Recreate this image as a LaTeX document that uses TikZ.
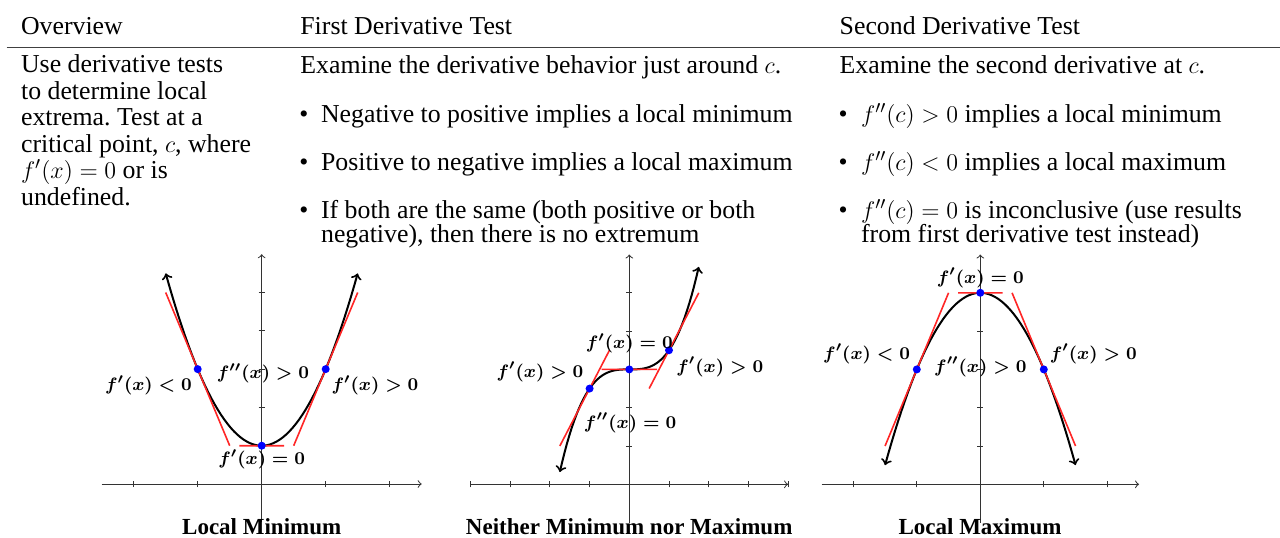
\documentclass[tikz,border=0pt]{standalone}
\usepackage{fontspec}
\setmainfont{Liberation Serif}

\begin{document}
\begin{tikzpicture}[x=0.5pt, y=-0.5pt,
    txt/.style={anchor=base west, inner sep=0pt, font=\fontsize{12.9}{13}\selectfont},
    ttl/.style={anchor=base, inner sep=0pt, font=\fontsize{11.5}{12}\selectfont\bfseries},
    lbl/.style={inner sep=0pt, font=\fontsize{9.4}{11}\selectfont\boldmath},
    axis/.style={black!80, line width=0.5pt},
    curve/.style={line width=1pt, <->},
    tan/.style={red!85, line width=0.8pt},
    dot/.style={circle, fill=blue, inner sep=0pt, minimum size=4pt}]
    \useasboundingbox (0,0) rectangle (1280,537);

    % table head
    \node[txt] (hov) at (20.7,34.3) {Overview};
    \node[txt] (hfd) at (300,34.3) {First Derivative Test};
    \node[txt] (hsd) at (839.3,34.3) {Second Derivative Test};
    \draw[black!75, line width=0.6pt] (6.7,47.7) -- (1280,47.7);

    % overview column
    \node[txt] (ov1) at (20.7,72.7) {Use derivative tests};
    \node[txt] (ov2) at (20.7,99.2) {to determine local};
    \node[txt] (ov3) at (20.7,125.7) {extrema.\ Test at a};
    \node[txt] (ov4) at (20.7,152.2) {critical point, $c$, where};
    \node[txt] (ov5) at (20.7,178.7) {$f'(x)=0$ or is};
    \node[txt] (ov6) at (20.7,205.2) {undefined.};

    % first derivative column
    \node[txt] (fd0) at (300,73) {Examine the derivative behavior just around $c$.};
    \node[txt] (fdb1) at (299,122.7) {\textbullet};
    \node[txt] (fd1) at (320.7,122.7) {Negative to positive implies a local minimum};
    \node[txt] (fdb2) at (299,170.7) {\textbullet};
    \node[txt] (fd2) at (320.7,170.7) {Positive to negative implies a local maximum};
    \node[txt] (fdb3) at (299,218) {\textbullet};
    \node[txt] (fd3) at (320.7,218) {If both are the same (both positive or both};
    \node[txt] (fd4) at (320.7,242.5) {negative), then there is no extremum};

    % second derivative column
    \node[txt] (sd0) at (839.3,73) {Examine the second derivative at $c$.};
    \node[txt] (sdb1) at (838.3,122.7) {\textbullet};
    \node[txt] (sd1) at (860.7,122.7) {$f''(c)>0$ implies a local minimum};
    \node[txt] (sdb2) at (838.3,170.7) {\textbullet};
    \node[txt] (sd2) at (860.7,170.7) {$f''(c)<0$ implies a local maximum};
    \node[txt] (sdb3) at (838.3,218) {\textbullet};
    \node[txt] (sd3) at (860.7,218) {$f''(c)=0$ is inconclusive (use results};
    \node[txt] (sd4) at (860.7,242.5) {from first derivative test instead)};

    \coordinate (O1) at (261.7,484);
    \coordinate (O2) at (629.3,484.3);
    \coordinate (O3) at (980.3,484.3);

    % local minimum
    \begin{scope}[shift={(O1)}, x=32pt, y=19.15pt]
        \draw[axis, ->] (-2.5,0) -- (2.5,0);
        \draw[axis, ->] (0,-1) -- (0,6);
        \foreach \t in {-2,-1,1,2} \draw[axis] (\t,-0.08) -- (\t,0.08);
        \foreach \t in {1,...,5} \draw[axis] (-0.05,\t) -- (0.05,\t);
        \draw[curve, domain=-1.5:1.5, samples=60] plot (\x,{2*\x*\x+1});
        \draw[tan] (-1.5,5) -- (-0.5,1) (-0.35,1) -- (0.35,1) (0.5,1) -- (1.5,5);
        \node[dot] (mn1) at (-1,3) {};
        \node[dot] (mn0) at (0,1) {};
        \node[dot] (mn2) at (1,3) {};
        \node[lbl] (mnl1) at (-1.77,2.58) {$f'(x)<0$};
        \node[lbl] (mnl2) at (0.02,2.89) {$f''(x)>0$};
        \node[lbl] (mnl3) at (1.77,2.58) {$f'(x)>0$};
        \node[lbl] (mnl0) at (0,0.64) {$f'(x)=0$};
    \end{scope}

    % neither
    \begin{scope}[shift={(O2)}, x=19.85pt, y=19.15pt]
        \draw[axis, ->] (-4,0) -- (4,0);
        \draw[axis, ->] (0,-1) -- (0,6);
        \foreach \t in {-4,...,-1,1,2,3,4} \draw[axis] (\t,-0.08) -- (\t,0.08);
        \foreach \t in {1,...,5} \draw[axis] (-0.075,\t) -- (0.075,\t);
        \draw[curve, domain=-1.75:1.75, samples=60] plot (\x,{3+0.5*\x*\x*\x});
        \draw[tan] (-1.75,1) -- (-0.5,3.5) (-0.7,3) -- (0.7,3) (0.5,2.5) -- (1.75,5);
        \node[dot] (nt1) at (-1,2.5) {};
        \node[dot] (nt0) at (0,3) {};
        \node[dot] (nt2) at (1,3.5) {};
        \node[lbl] (ntl0) at (0,3.68) {$f'(x)=0$};
        \node[lbl] (ntl1) at (-2.25,2.94) {$f'(x)>0$};
        \node[lbl] (ntl2) at (2.28,3.07) {$f'(x)>0$};
        \node[lbl] (ntl3) at (0.02,1.61) {$f''(x)=0$};
    \end{scope}

    % local maximum
    \begin{scope}[shift={(O3)}, x=31.75pt, y=19.15pt]
        \draw[axis, ->] (-2.5,0) -- (2.5,0);
        \draw[axis, ->] (0,-1) -- (0,6);
        \foreach \t in {-2,-1,1,2} \draw[axis] (\t,-0.08) -- (\t,0.08);
        \foreach \t in {1,...,5} \draw[axis] (-0.05,\t) -- (0.05,\t);
        \draw[curve, domain=-1.5:1.5, samples=60] plot (\x,{5-2*\x*\x});
        \draw[tan] (-1.5,1) -- (-0.5,5) (-0.35,5) -- (0.35,5) (0.5,5) -- (1.5,1);
        \node[dot] (mx1) at (-1,3) {};
        \node[dot] (mx0) at (0,5) {};
        \node[dot] (mx2) at (1,3) {};
        \node[lbl] (mxl0) at (0,5.39) {$f'(x)=0$};
        \node[lbl] (mxl1) at (-1.79,3.4) {$f'(x)<0$};
        \node[lbl] (mxl2) at (0,3.07) {$f''(x)>0$};
        \node[lbl] (mxl3) at (1.78,3.4) {$f'(x)>0$};
    \end{scope}

    \node[ttl] (t1) at (261.7,534.5) {Local Minimum};
    \node[ttl] (t2) at (629.2,534.5) {Neither Minimum nor Maximum};
    \node[ttl] (t3) at (980,534.5) {Local Maximum};
\end{tikzpicture}
\end{document}
